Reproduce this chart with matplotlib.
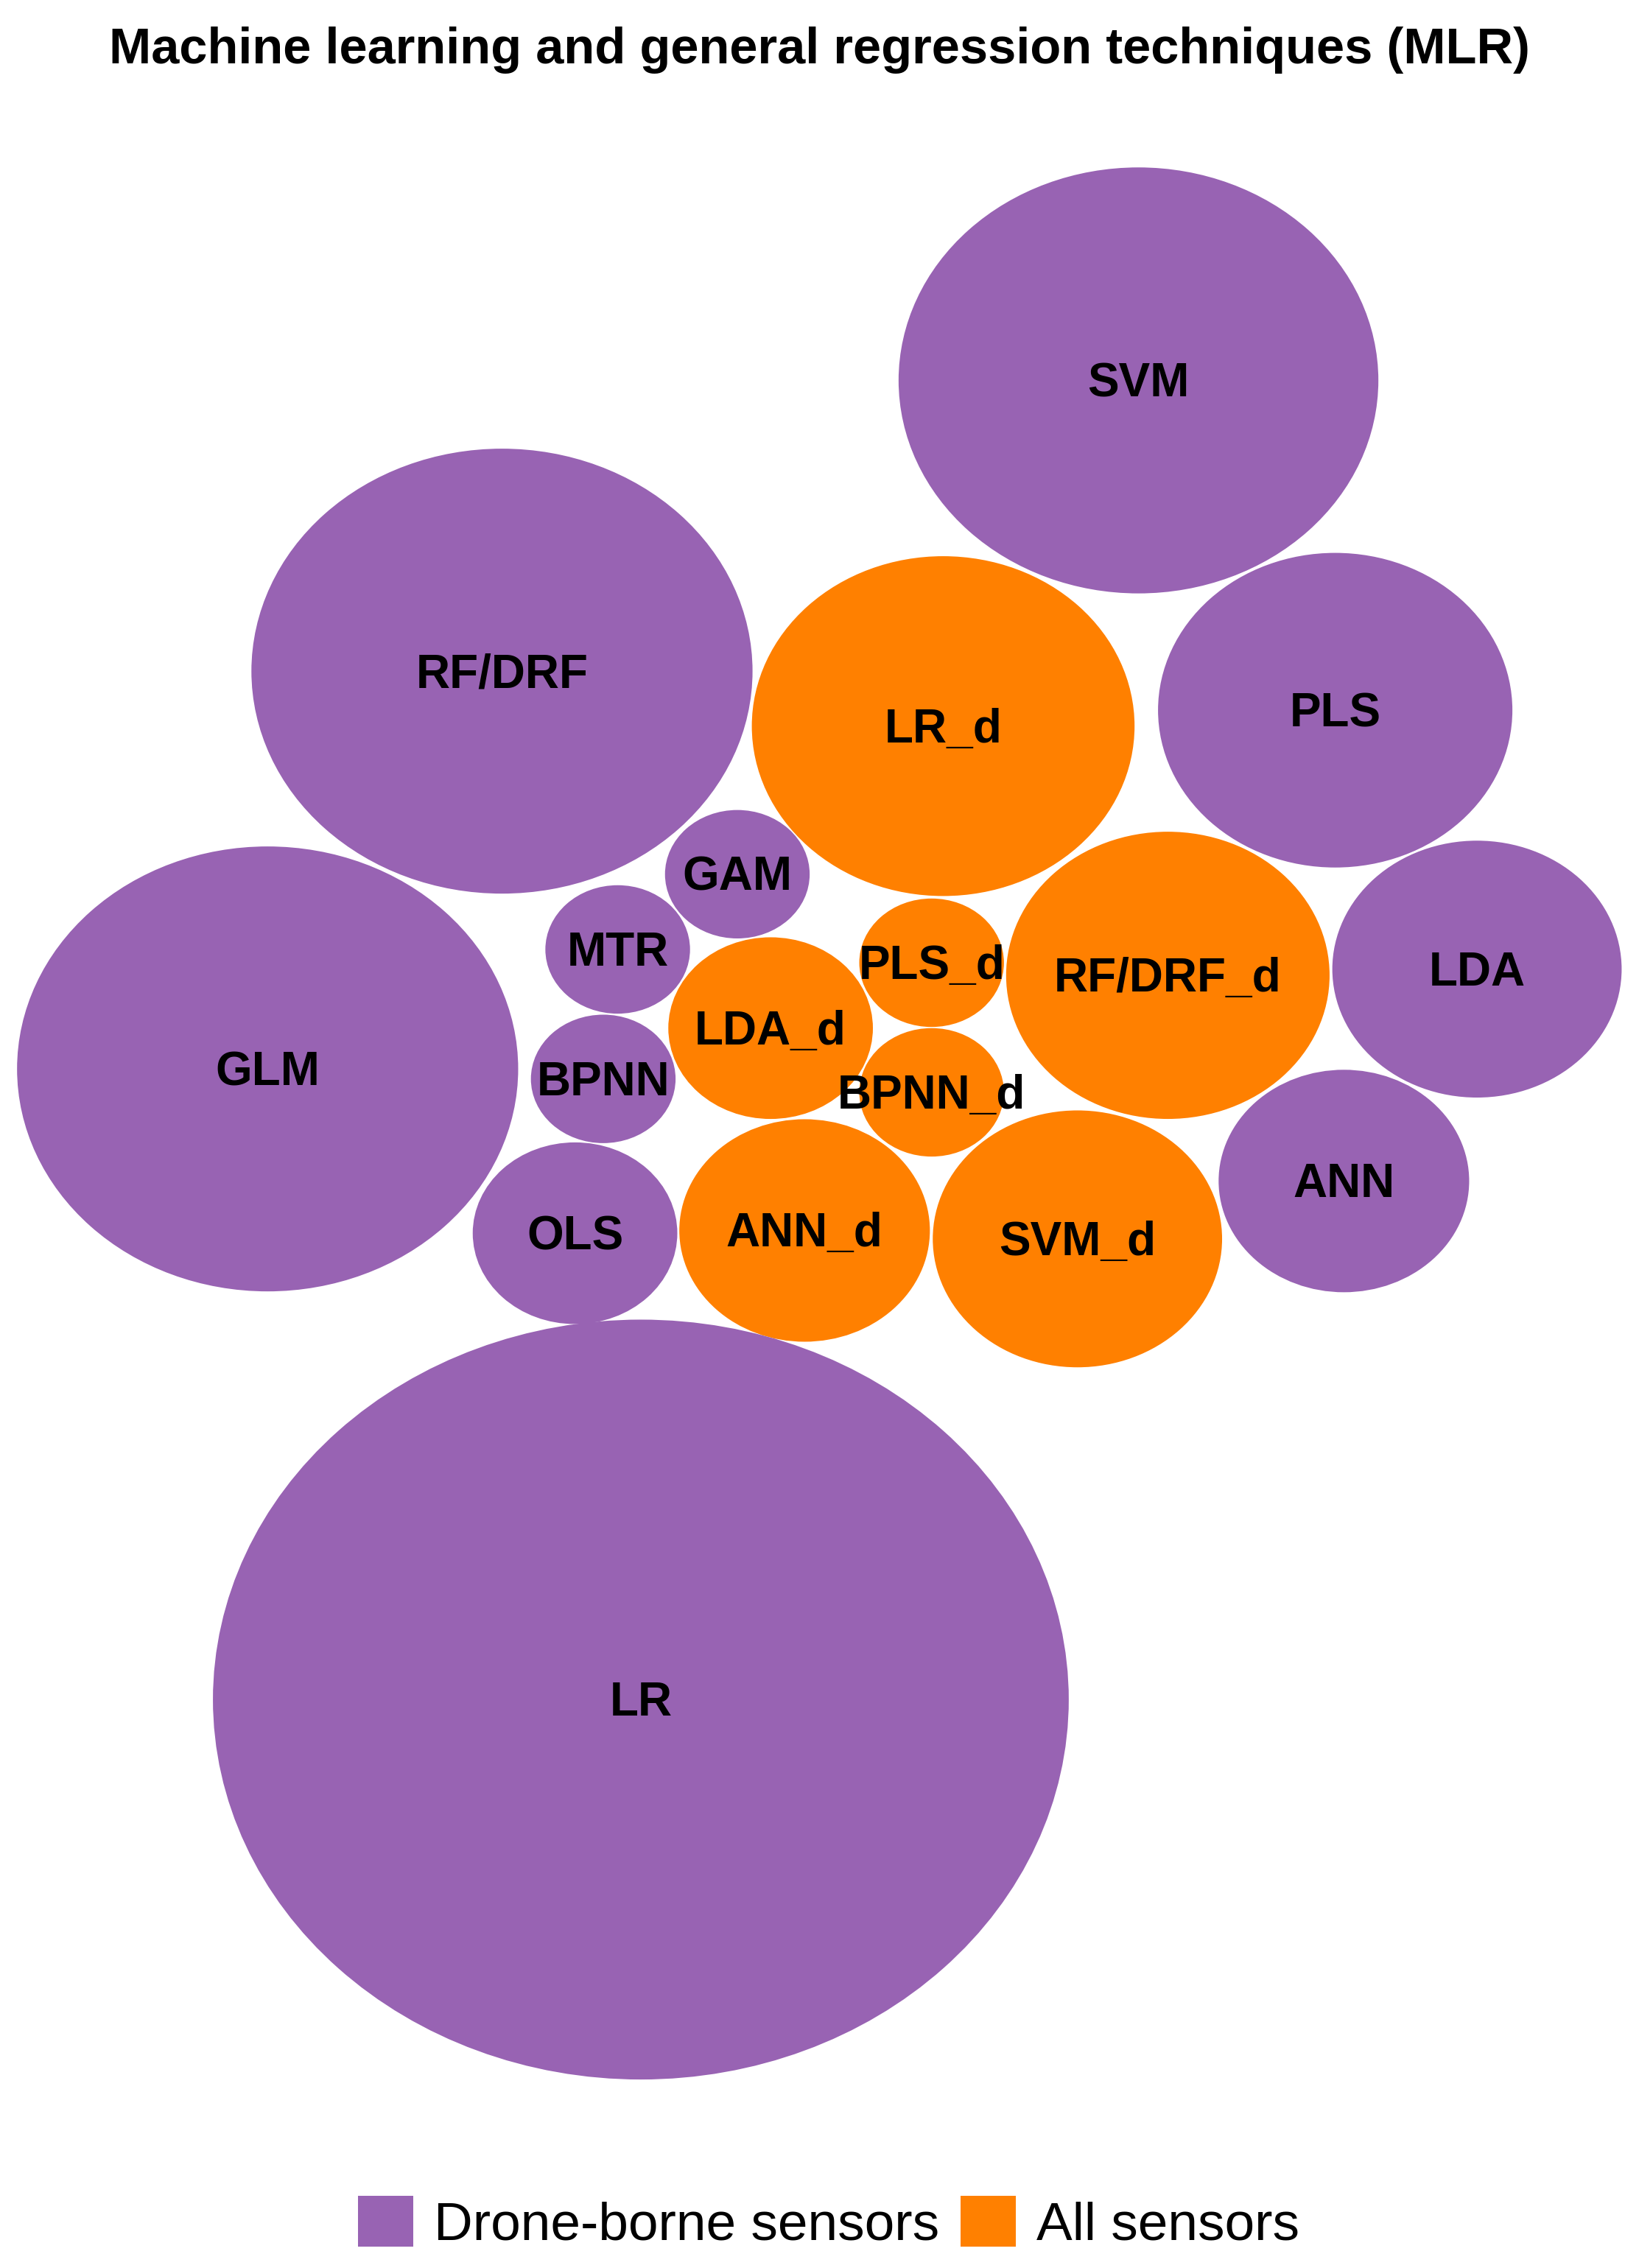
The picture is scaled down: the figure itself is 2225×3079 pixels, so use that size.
import matplotlib
matplotlib.use("Agg")
import matplotlib.pyplot as plt
from matplotlib.patches import Circle, Patch
import numpy as np

plt.rcParams['font.family'] = ['Liberation Sans', 'DejaVu Sans']

labels = ["SVM", "RF/DRF", "LR_d", "PLS", "GLM", "GAM", "MTR", "PLS_d", "RF/DRF_d",
          "LDA", "LDA_d", "BPNN", "BPNN_d", "ANN", "OLS", "ANN_d", "SVM_d", "LR"]
values = [11, 12, 7, 6, 12, 1, 1, 1, 5, 4, 2, 1, 1, 3, 2, 3, 4, 35]
groups = ["Drone-borne sensors", "Drone-borne sensors", "All sensors", "Drone-borne sensors",
          "Drone-borne sensors", "Drone-borne sensors", "Drone-borne sensors", "All sensors",
          "All sensors", "Drone-borne sensors", "All sensors", "Drone-borne sensors",
          "All sensors", "Drone-borne sensors", "Drone-borne sensors", "All sensors",
          "All sensors", "Drone-borne sensors"]
# packed layout centres (layout units)
cx = [787, 347, 652, 923, 185, 509.7, 427, 644, 807.3, 1021, 532.7, 417, 644, 929, 397.5, 556.2, 744.8, 443]
cy = [263, 464, 502, 491, 739, 604.4, 656.4, 665.6, 674.3, 670, 710.8, 745.9, 755.2, 816.5, 852.6, 850.7, 856.5, 1175]

group_names = ["Drone-borne sensors", "All sensors"]
group_colors = {"Drone-borne sensors": "#9863b3", "All sensors": "#ff8000"}

K = 50.0        # radius of a value-1 bubble in layout units
ASPECT = 0.888  # vertical squash of the drawing
W, H = 1133, 1568
LABEL_FS = 46

fig = plt.figure(figsize=(22.25, 30.79), dpi=100)
ax = fig.add_axes([0, 0, 1, 1])
ax.set_xlim(0, W)
ax.set_ylim(H / ASPECT, 0)
ax.axis('off')

for lab, v, g, x, y in zip(labels, values, groups, cx, cy):
    r = K * np.sqrt(v)
    ax.add_patch(Circle((x, y / ASPECT), r, facecolor=group_colors[g], edgecolor='none'))
    ax.annotate(lab, (x, y / ASPECT), xytext=(0, -0.344 * LABEL_FS), textcoords='offset points',
                ha='center', va='baseline', fontsize=LABEL_FS, fontweight='bold', color='black')

fig.text(0.5, 1 - 86 / 3079, "Machine learning and general regression techniques (MLR)",
         ha='center', va='baseline', fontsize=49.4, fontweight='bold')

handles = [Patch(facecolor=group_colors[g], edgecolor='none', label=g) for g in group_names]
fig.legend(handles=handles, loc='center', bbox_to_anchor=(0.5055, 1 - 3018 / 3079), ncol=2,
           frameon=False, fontsize=52.6, handlelength=1.03, handleheight=1.09,
           handletextpad=0.38, columnspacing=0.4, borderpad=0)

fig.savefig("out.png", dpi=100, facecolor='white')
